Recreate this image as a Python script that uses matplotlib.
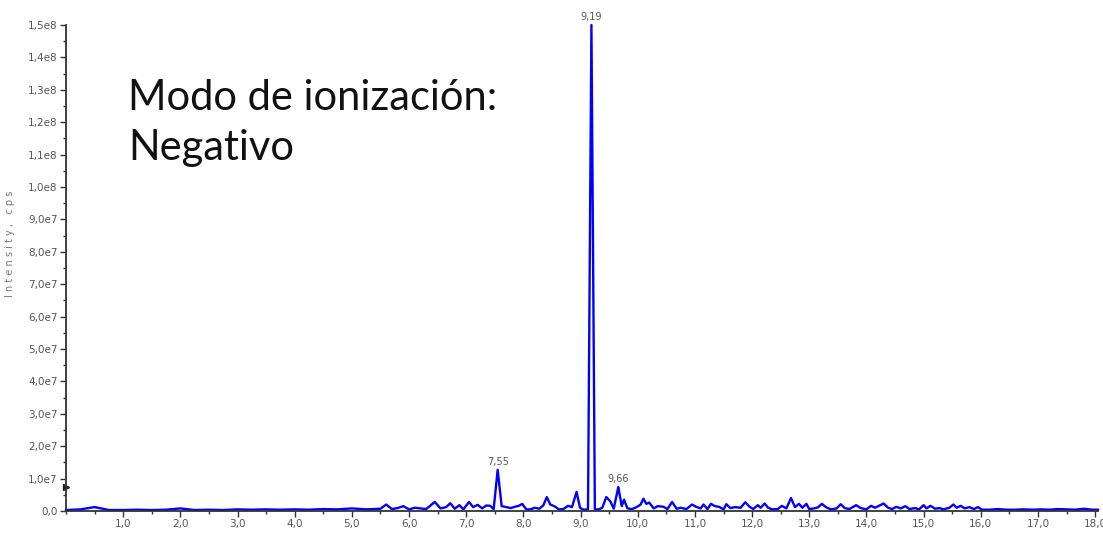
import numpy as np
import matplotlib.pyplot as plt
from matplotlib.ticker import MultipleLocator, FixedLocator

# retention time (min) and intensity (1e6 cps)
t_early = [0.0, 0.25, 0.5, 0.75, 1.0, 1.25, 1.5, 1.75, 2.0, 2.25, 2.5, 2.75,
           3.0, 3.25, 3.5, 3.75, 4.0, 4.25, 4.5, 4.75, 5.0, 5.25, 5.5]
i_early = [0.3, 0.5, 1.2, 0.3, 0.3, 0.4, 0.3, 0.4, 0.8, 0.3, 0.4, 0.3,
           0.5, 0.4, 0.5, 0.4, 0.5, 0.4, 0.6, 0.5, 0.8, 0.5, 0.7]

t_mid = [5.6, 5.7, 5.8, 5.9, 6.0, 6.1, 6.2, 6.3, 6.45, 6.55, 6.65, 6.72, 6.8,
         6.88, 6.95, 7.05, 7.12, 7.2, 7.28, 7.35, 7.42, 7.48, 7.55, 7.62, 7.7,
         7.78, 7.85, 7.92, 7.98, 8.05, 8.12, 8.2, 8.28, 8.35, 8.41, 8.47, 8.55,
         8.62, 8.7, 8.78, 8.85, 8.93, 8.99, 9.05, 9.13, 9.19, 9.25, 9.32, 9.38,
         9.45, 9.52, 9.58, 9.66, 9.72, 9.76, 9.82, 9.9, 9.98, 10.05, 10.1,
         10.15, 10.2, 10.28, 10.35, 10.45, 10.52, 10.6, 10.68, 10.75, 10.85]
i_mid = [2.0, 0.6, 0.9, 1.5, 0.5, 1.0, 0.8, 0.6, 2.8, 0.8, 1.2, 2.4, 0.7,
         1.8, 0.5, 2.8, 1.2, 1.9, 0.8, 1.7, 1.6, 0.6, 12.7, 1.5, 1.2,
         0.9, 1.3, 1.6, 2.2, 0.5, 0.5, 1.0, 0.7, 1.8, 4.3, 2.0, 1.4,
         0.5, 0.6, 1.6, 1.2, 5.9, 1.0, 0.4, 0.5, 150.0, 0.5, 0.5, 1.0,
         4.3, 3.0, 0.7, 7.4, 1.5, 3.5, 0.8, 0.6, 1.2, 2.0, 3.8,
         2.2, 2.6, 0.8, 1.5, 1.3, 0.6, 2.8, 0.7, 1.0, 0.6]

t_late = [10.95, 11.02, 11.1, 11.15, 11.22, 11.28, 11.35, 11.42, 11.5, 11.55,
          11.62, 11.7, 11.8, 11.88, 11.95, 12.02, 12.1, 12.15, 12.22, 12.28,
          12.35, 12.45, 12.52, 12.6, 12.68, 12.75, 12.82, 12.88, 12.95, 13.0,
          13.08, 13.15, 13.22, 13.3, 13.38, 13.48, 13.55, 13.62, 13.7, 13.82,
          13.9, 14.0, 14.08, 14.15, 14.22, 14.3, 14.38, 14.45, 14.52, 14.6,
          14.68, 14.75, 14.85, 14.92, 15.0, 15.05, 15.12, 15.2, 15.28, 15.35,
          15.45, 15.52, 15.58, 15.65, 15.72, 15.8, 15.88, 15.95, 16.02, 16.15,
          16.3, 16.45, 16.6, 16.75, 16.9, 17.05, 17.2, 17.35, 17.5, 17.65,
          17.8, 17.95, 18.05]
i_late = [2.0, 1.3, 0.8, 2.0, 0.6, 2.2, 1.5, 1.3, 0.5, 2.1,
          0.9, 1.2, 1.0, 2.7, 1.4, 0.6, 1.8, 1.0, 2.3, 1.0,
          0.5, 0.6, 1.6, 0.8, 4.0, 1.2, 2.2, 1.0, 2.2, 0.6,
          0.8, 1.1, 2.2, 1.1, 0.5, 0.8, 2.1, 0.9, 0.6, 1.8,
          0.9, 0.5, 1.6, 1.0, 1.6, 2.3, 1.0, 0.6, 1.3, 0.8,
          1.5, 0.6, 0.9, 0.5, 1.8, 0.8, 1.6, 0.7, 0.9, 0.5,
          1.0, 2.0, 1.0, 1.6, 0.8, 1.2, 0.6, 1.2, 0.4, 0.4,
          0.6, 0.4, 0.4, 0.5, 0.4, 0.5, 0.4, 0.6, 0.5, 0.4,
          0.7, 0.4, 0.4]

peak_times = [7.55, 9.19, 9.66]
peak_labels = ['7,55', '9,19', '9,66']
peak_heights = [12.7, 150.0, 7.4]

y_ticks = np.arange(0, 151, 10) * 1e6
y_labels = ['0,0', '1,0e7', '2,0e7', '3,0e7', '4,0e7', '5,0e7', '6,0e7', '7,0e7',
            '8,0e7', '9,0e7', '1,0e8', '1,1e8', '1,2e8', '1,3e8', '1,4e8', '1,5e8']
x_ticks = list(range(1, 19))
x_labels = ['%d,0' % v for v in x_ticks]

t = np.array(t_early + t_mid + t_late)
inten = np.array(i_early + i_mid + i_late) * 1e6

fig = plt.figure(figsize=(11.03, 5.33), dpi=100)
ax = fig.add_axes([66 / 1103, 22 / 533, 1032 / 1103, 486 / 533])

ax.plot(t, inten, color='#0000ff', lw=1.7, clip_on=False)

for pt, lab, ph in zip(peak_times, peak_labels, peak_heights):
    ax.annotate(lab, (pt, ph * 1e6), xytext=(0, 2), textcoords='offset points',
                ha='center', va='bottom', fontsize=7, color='#555555',
                annotation_clip=False)

ax.set_xlim(0, 18.05)
ax.set_ylim(0, 1.5e8)
ax.yaxis.set_major_locator(FixedLocator(y_ticks))
ax.set_yticklabels(y_labels)
ax.yaxis.set_minor_locator(MultipleLocator(5e6))
ax.xaxis.set_major_locator(FixedLocator(x_ticks))
ax.set_xticklabels(x_labels)
ax.xaxis.set_minor_locator(MultipleLocator(0.5))

for side in ['top', 'right']:
    ax.spines[side].set_visible(False)
for side in ['left', 'bottom']:
    ax.spines[side].set_color('#333333')
    ax.spines[side].set_linewidth(1.3)

ax.tick_params(which='major', length=4, width=1, color='#333333',
               labelsize=7.5, labelcolor='#555555', pad=2)
ax.tick_params(which='minor', length=2.5, width=1, color='#333333')

ax.set_xlabel('Time, min', fontsize=7.5, color='#555555', labelpad=3)
ax.set_ylabel('I n t e n s i t y ,   c p s', fontsize=7, color='#777777')
ax.yaxis.set_label_coords(-0.049, 0.55)

# start marker on the intensity axis
ax.plot([0], [0.75e7], marker='>', color='#222222', markersize=5, clip_on=False)

fig.text(128 / 1103, 1 - 79 / 533, 'Modo de ionización:\nNegativo',
         fontsize=30, family='Lato', va='top', ha='left', color='#111111',
         linespacing=1.4)

fig.savefig('out.png', dpi=100)
